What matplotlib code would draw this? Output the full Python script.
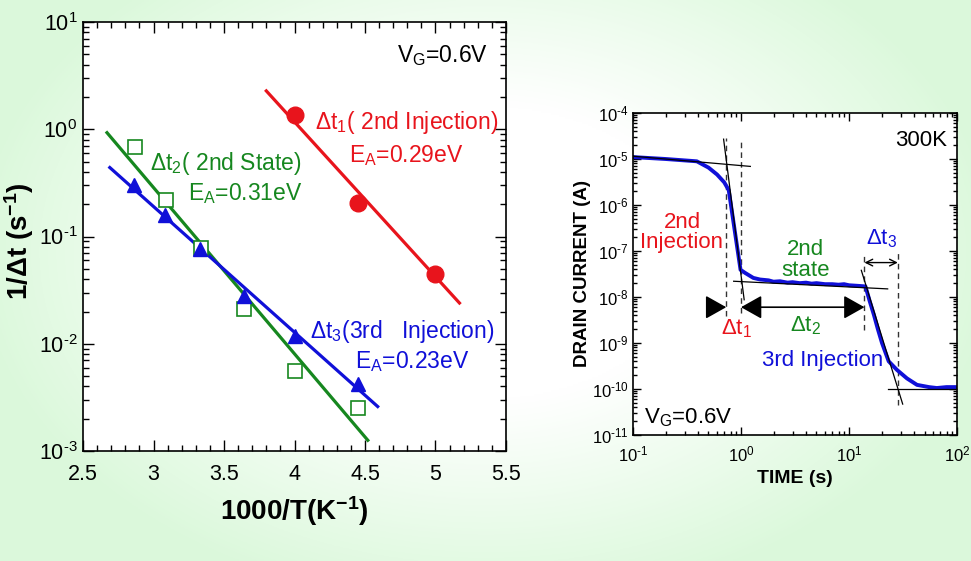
import numpy as np
import matplotlib
matplotlib.use("Agg")
import matplotlib.pyplot as plt
from matplotlib.ticker import MultipleLocator, LogLocator, NullFormatter

plt.rcParams['font.family'] = ['Liberation Sans', 'DejaVu Sans']
plt.rcParams['mathtext.fontset'] = 'custom'
plt.rcParams['mathtext.rm'] = 'Liberation Sans'
plt.rcParams['mathtext.it'] = 'Liberation Sans:italic'
plt.rcParams['mathtext.bf'] = 'Liberation Sans:bold'
plt.rcParams['mathtext.sf'] = 'Liberation Sans'
plt.rcParams['axes.unicode_minus'] = False

RED = '#e8141c'
GREEN = '#16871f'
BLUE = '#1010d8'

# --- Arrhenius data (left panel) ---
inv_T_red = [4.0, 4.45, 5.0]
rate_red = [1.35, 0.204, 0.045]
inv_T_green = [2.87, 3.09, 3.34, 3.64, 4.0, 4.45]
rate_green = [0.69, 0.22, 0.078, 0.021, 0.0056, 0.0025]
inv_T_blue = [2.86, 3.08, 3.33, 3.64, 4.0, 4.45]
rate_blue = [0.30, 0.158, 0.077, 0.028, 0.0118, 0.0042]

# fitted lines (end points)
fit_red_x, fit_red_y = [3.80, 5.17], [2.28, 0.024]
fit_green_x, fit_green_y = [2.67, 4.52], [0.93, 0.00126]
fit_blue_x, fit_blue_y = [2.69, 4.59], [0.44, 0.0026]

# --- Drain current transient (right panel) ---
time_s = [0.1, 0.2, 0.39, 0.5, 0.6, 0.7, 0.77, 0.99, 1.1, 1.3, 1.5, 1.8,
          2.0, 2.3, 2.7, 3.0, 3.5, 4.0, 4.5, 5.0, 6.0, 7.0, 8.0, 9.0, 10.0,
          12.0, 14.2, 15.5, 17.0, 18.5, 20.2, 23.3, 27.8, 34.4, 42.6, 55.0,
          65.0, 80.0, 100.0]
drain_a = [1.1e-5, 1.0e-5, 8.9e-6, 6.5e-6, 4.6e-6, 3.1e-6, 2.1e-6, 3.9e-8,
           3.3e-8, 2.6e-8, 2.4e-8, 2.3e-8, 2.15e-8, 2.2e-8, 2.05e-8, 2.1e-8,
           2.0e-8, 2.05e-8, 1.95e-8, 2.0e-8, 1.9e-8, 1.9e-8, 1.85e-8, 1.9e-8,
           1.8e-8, 1.75e-8, 1.7e-8, 8.3e-9, 4.1e-9, 2.0e-9, 1.0e-9, 4.0e-10,
           2.6e-10, 1.7e-10, 1.23e-10, 1.1e-10, 1.05e-10, 1.1e-10, 1.1e-10]

# tangent lines
tangents = [
    ([0.1, 1.22], [1.15e-5, 6.9e-6]),
    ([0.69, 1.07], [2.7e-5, 8.7e-9]),
    ([0.855, 22.8], [2.2e-8, 1.5e-8]),
    ([13.0, 31.4], [3.8e-8, 4.7e-11]),
    ([22.8, 100.0], [1.02e-10, 1.02e-10]),
]
# dashed markers (t, I_low, I_high)
dashed = [(0.73, 3.8e-9, 2.9e-5), (1.0, 4.5e-9, 2.9e-5),
          (13.9, 1.95e-9, 9.1e-8), (28.3, 4.6e-11, 9.1e-8)]


def pow10(v, p):
    e = int(round(np.log10(v)))
    return "$10^{\\text{%d}}$" % e


fig = plt.figure(figsize=(9.71, 5.61), dpi=100)

# light green gradient background
bg = fig.add_axes([0, 0, 1, 1], zorder=-10)
yy, xx = np.mgrid[0:1:300j, 0:1:500j]
r = np.sqrt(((xx - 0.5) / 0.62) ** 2 + ((yy - 0.45) / 0.75) ** 2)
t = np.clip((r - 0.35) / 0.5, 0, 1)[..., None]
edge = np.array([0.86, 0.975, 0.86])
img = (1 - t) * np.ones(3) + t * edge
bg.imshow(img, aspect='auto', extent=[0, 1, 0, 1], origin='upper')
bg.axis('off')

# ================= left panel =================
ax = fig.add_axes([0.0855, 0.196, 0.4356, 0.7647])
ax.plot(fit_red_x, fit_red_y, color=RED, lw=2.3)
ax.plot(fit_green_x, fit_green_y, color=GREEN, lw=2.3)
ax.plot(fit_blue_x, fit_blue_y, color=BLUE, lw=2.3)
ax.plot(inv_T_red, rate_red, 'o', color=RED, ms=12, ls='none')
ax.plot(inv_T_green, rate_green, 's', mfc='white', mec=GREEN, mew=1.2,
        ms=10.5, ls='none')
ax.plot(inv_T_blue, rate_blue, '^', color=BLUE, ms=10.5, ls='none')
ax.set_yscale('log')
ax.set_xlim(2.5, 5.5)
ax.set_ylim(1e-3, 1e1)
ax.xaxis.set_major_locator(MultipleLocator(0.5))
ax.xaxis.set_minor_locator(MultipleLocator(0.1))
ax.xaxis.set_major_formatter(plt.FuncFormatter(lambda v, p: f"{v:g}"))
ax.yaxis.set_major_locator(LogLocator(base=10, numticks=10))
ax.yaxis.set_minor_locator(LogLocator(base=10, subs=np.arange(2, 10), numticks=20))
ax.yaxis.set_major_formatter(plt.FuncFormatter(pow10))
ax.yaxis.set_minor_formatter(NullFormatter())
ax.tick_params(which='both', direction='in', top=True, right=True, width=1)
ax.tick_params(which='major', length=8, labelsize=15.5)
ax.tick_params(which='minor', length=4)
ax.tick_params(axis='x', pad=9)
ax.tick_params(axis='y', pad=4)
for s in ax.spines.values():
    s.set_linewidth(1.2)
ax.set_xlabel("1000/T(K$^{\\mathbf{-1}}$)", fontsize=20, fontweight='bold')
ax.set_ylabel("1/Δt (s$^{\\mathbf{-1}}$)", fontsize=20, fontweight='bold')
ax.xaxis.set_label_coords(0.5, -0.1)
ax.yaxis.set_label_coords(-0.11, 0.49)

ax.text(5.37, 4.9, "V$_\\mathrm{G}$=0.6V", fontsize=16.5, ha='right', va='center')
ax.text(4.145, 1.0, "Δt$_1$( 2nd Injection)", fontsize=16.5, color=RED,
        va='baseline')
ax.text(4.39, 0.49, "E$_\\mathrm{A}$=0.29eV", fontsize=16.5, color=RED,
        va='baseline')
ax.text(2.975, 0.414, "Δt$_2$( 2nd State)", fontsize=16.5, color=GREEN,
        va='baseline')
ax.text(3.245, 0.217, "E$_\\mathrm{A}$=0.31eV", fontsize=16.5, color=GREEN,
        va='baseline')
ax.text(4.11, 0.01137, "Δt$_3$(3rd   Injection)", fontsize=16.5, color=BLUE,
        va='baseline')
ax.text(4.43, 0.00597, "E$_\\mathrm{A}$=0.23eV", fontsize=16.5, color=BLUE,
        va='baseline')

# ================= right panel =================
bx = fig.add_axes([0.6519, 0.2246, 0.3337, 0.574])
bx.set_xscale('log')
bx.set_yscale('log')
bx.set_xlim(0.1, 100)
bx.set_ylim(1e-11, 1e-4)
for tx, ty in tangents:
    bx.plot(tx, ty, color='black', lw=0.9, zorder=3)
for tt, lo, hi in dashed:
    bx.plot([tt, tt], [lo, hi], color='#333333', lw=1.0, ls=(0, (4, 3)))
bx.plot(time_s, drain_a, color=BLUE, lw=2.8, zorder=2)

bx.annotate("", xy=(13.9, 6e-9), xytext=(1.0, 6e-9),
            arrowprops=dict(arrowstyle='<|-|>,head_length=0.8,head_width=0.45',
                            mutation_scale=16, color='black', lw=1.2,
                            shrinkA=0, shrinkB=0))
bx.annotate("", xy=(0.73, 6e-9), xytext=(0.5, 6e-9),
            arrowprops=dict(arrowstyle='-|>,head_length=0.8,head_width=0.45',
                            mutation_scale=16, color='black', lw=1.2,
                            shrinkA=0, shrinkB=0))
bx.annotate("", xy=(28.3, 5.6e-8), xytext=(13.9, 5.6e-8),
            arrowprops=dict(arrowstyle='<->,head_length=0.4,head_width=0.2',
                            mutation_scale=12, color='black', lw=1.0,
                            shrinkA=0, shrinkB=0))

bx.yaxis.set_major_locator(LogLocator(base=10, numticks=12))
bx.yaxis.set_minor_locator(LogLocator(base=10, subs=np.arange(2, 10), numticks=40))
bx.xaxis.set_major_locator(LogLocator(base=10, numticks=12))
bx.xaxis.set_minor_locator(LogLocator(base=10, subs=np.arange(2, 10), numticks=40))
bx.xaxis.set_major_formatter(plt.FuncFormatter(pow10))
bx.yaxis.set_major_formatter(plt.FuncFormatter(pow10))
bx.xaxis.set_minor_formatter(NullFormatter())
bx.yaxis.set_minor_formatter(NullFormatter())
bx.tick_params(which='both', direction='in', top=True, right=True, width=1)
bx.tick_params(which='major', length=6, labelsize=12)
bx.tick_params(which='minor', length=3)
bx.tick_params(axis='x', pad=7)
bx.tick_params(axis='y', pad=3)
for s in bx.spines.values():
    s.set_linewidth(1.2)
bx.set_xlabel("TIME (s)", fontsize=14, fontweight='bold')
bx.set_ylabel("DRAIN CURRENT (A)", fontsize=13.5, fontweight='bold')
bx.xaxis.set_label_coords(0.5, -0.11)
bx.yaxis.set_label_coords(-0.13, 0.5)

bx.text(80.7, 1.9e-5, "300K", fontsize=16, ha='right', va='baseline')
bx.text(0.284, 2.55e-7, "2nd\nInjection", fontsize=16, color=RED,
        ha='center', va='center', linespacing=0.95)
bx.text(3.95, 6.4e-8, "2nd\nstate", fontsize=16, color=GREEN,
        ha='center', va='center', linespacing=0.95)
bx.text(0.905, 1.5e-9, "Δt$_1$", fontsize=16, color=RED, ha='center',
        va='baseline')
bx.text(4.0, 1.8e-9, "Δt$_2$", fontsize=16, color=GREEN, ha='center',
        va='baseline')
bx.text(20.2, 1.4e-7, "Δt$_3$", fontsize=16, color=BLUE, ha='center',
        va='baseline')
bx.text(5.7, 3.2e-10, "3rd Injection", fontsize=16, color=BLUE, ha='center',
        va='baseline')
bx.text(0.1256, 1.8e-11, "V$_\\mathrm{G}$=0.6V", fontsize=16, va='baseline')

fig.savefig("out.png", dpi=100)
